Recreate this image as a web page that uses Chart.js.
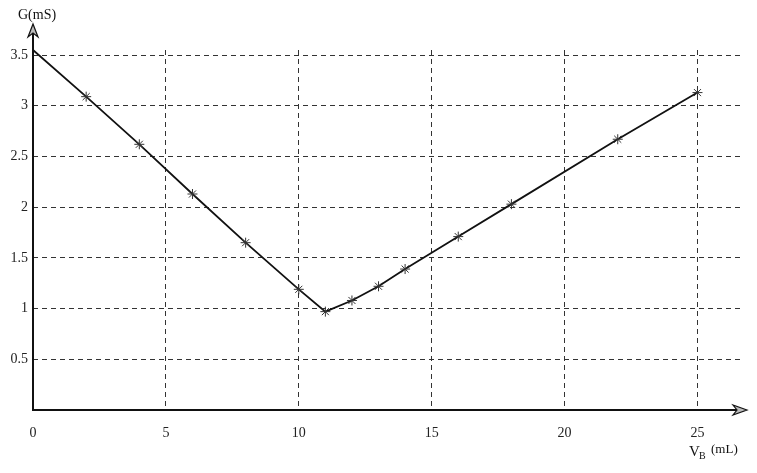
<!DOCTYPE html>
<html><head><meta charset="utf-8">
<script src="https://cdn.jsdelivr.net/npm/chart.js@4"></script>
<style>html,body{margin:0;padding:0;background:#fff}#wrap{width:757px;height:473px}</style>
</head><body><div id="wrap"><canvas id="c" width="757" height="473"></canvas></div>
<script>
const volumes = [0, 2, 4, 6, 8, 10, 11, 12, 13, 14, 16, 18, 22, 25];
const conductance = [3.55, 3.09, 2.62, 2.13, 1.65, 1.19, 0.97, 1.08, 1.22, 1.39, 1.71, 2.03, 2.67, 3.13];
const xTicks = [0, 5, 10, 15, 20, 25];
const yTicks = [0, 0.5, 1, 1.5, 2, 2.5, 3, 3.5];
const yTitle = 'G(mS)';
const xTitleMain = 'V';
const xTitleSub = 'B';
const xTitleUnit = '(mL)';

const serif = '"Liberation Serif", "DejaVu Serif", serif';

const axesPlugin = {
  id: 'axesArrows',
  afterDraw(chart) {
    const ctx = chart.ctx;
    const x0 = chart.scales.x.getPixelForValue(0);
    const y0 = chart.scales.y.getPixelForValue(0);
    ctx.save();
    ctx.strokeStyle = '#111';
    ctx.lineWidth = 2;
    ctx.beginPath();
    ctx.moveTo(x0, y0 + 1);
    ctx.lineTo(x0, 30);
    ctx.moveTo(x0 - 1, y0);
    ctx.lineTo(742, y0);
    ctx.stroke();
    ctx.lineWidth = 1.2;
    ctx.fillStyle = '#bbb';
    ctx.beginPath();
    ctx.moveTo(x0, 24); ctx.lineTo(x0 - 5, 37); ctx.lineTo(x0, 33); ctx.lineTo(x0 + 5, 37); ctx.closePath();
    ctx.fill(); ctx.stroke();
    ctx.beginPath();
    ctx.moveTo(747, y0); ctx.lineTo(733, y0 - 5); ctx.lineTo(737, y0); ctx.lineTo(733, y0 + 5); ctx.closePath();
    ctx.fill(); ctx.stroke();
    ctx.fillStyle = '#111';
    ctx.textBaseline = 'middle';
    ctx.textAlign = 'left';
    ctx.font = '14px ' + serif;
    ctx.fillText(yTitle, 18, 15);
    ctx.font = '15px ' + serif;
    ctx.fillText(xTitleMain, 689, 452);
    ctx.font = '10px ' + serif;
    ctx.fillText(xTitleSub, 699, 456);
    ctx.font = '13px ' + serif;
    ctx.fillText(xTitleUnit, 711, 450);
    ctx.restore();
  }
};

const gridColor = ctx => (ctx.tick && ctx.tick.value === 0) ? 'rgba(0,0,0,0)' : '#333';

new Chart(document.getElementById('c'), {
  type: 'line',
  data: {
    datasets: [{
      data: volumes.map((v, i) => ({x: v, y: conductance[i]})),
      borderColor: '#111',
      borderWidth: 1.8,
      tension: 0,
      fill: false,
      pointStyle: 'star',
      pointRadius: ctx => ctx.dataIndex === 0 ? 0 : 5,
      pointBorderColor: '#333',
      pointBorderWidth: 1,
      pointBackgroundColor: 'transparent',
      clip: false
    }]
  },
  options: {
    responsive: false,
    animation: false,
    devicePixelRatio: 1,
    layout: {padding: {top: 50, right: 17, left: 0, bottom: 0}},
    plugins: {legend: {display: false}, tooltip: {enabled: false}},
    scales: {
      x: {
        type: 'linear', min: 0, max: 26.6,
        afterBuildTicks: s => { s.ticks = xTicks.map(v => ({value: v})); },
        afterFit: s => { s.height = 63; },
        border: {display: false, dash: [5, 4]},
        grid: {drawTicks: false, color: gridColor, lineWidth: 1},
        ticks: {
          padding: 15, color: '#222',
          font: {family: serif, size: 14},
          maxRotation: 0,
          callback: v => String(v)
        }
      },
      y: {
        type: 'linear', min: 0, max: 3.55,
        afterBuildTicks: s => { s.ticks = yTicks.map(v => ({value: v})); },
        afterFit: s => { s.width = 33; },
        border: {display: false, dash: [5, 4]},
        grid: {drawTicks: false, color: gridColor, lineWidth: 1},
        ticks: {
          padding: 5, color: '#222',
          font: {family: serif, size: 14},
          callback: v => v === 0 ? '' : String(v)
        }
      }
    }
  },
  plugins: [axesPlugin]
});
</script>
</body></html>
